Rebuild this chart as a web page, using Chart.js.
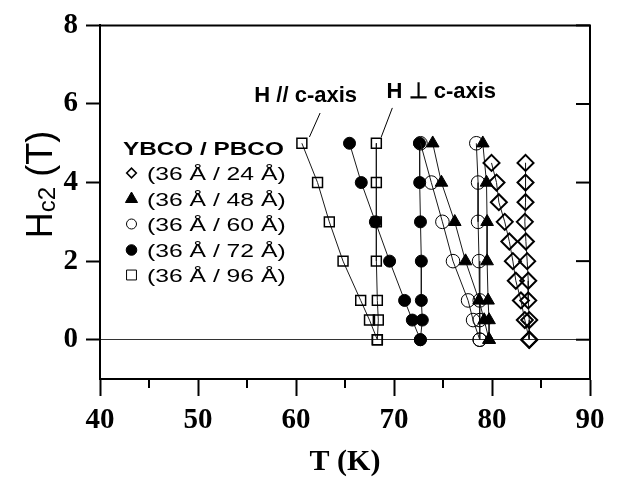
<!DOCTYPE html>
<html><head><meta charset="utf-8">
<script src="https://cdn.jsdelivr.net/npm/chart.js@4"></script>
<style>html,body{margin:0;padding:0;background:#fff}#wrap{width:628px;height:483px;position:relative}</style>
</head><body><div id="wrap"><canvas id="c"></canvas></div>
<script>
// ---- data ----
const fieldLevels   = [5, 4, 3, 2, 1, 0.5, 0];           // H (T)
const diamondLevels = [4.5, 4, 3.5, 3, 2.5, 2, 1.5, 1, 0.5, 0];
const t24Par  = [79.95, 80.46, 80.7, 81.3, 81.77, 82.13, 82.43, 82.95, 83.35, 83.8];
const t24Perp = [83.42, 83.42, 83.42, 83.35, 83.46, 83.59, 83.7, 83.7, 83.8, 83.8];
const t48Par  = [73.95, 74.84, 76.2, 77.3, 78.68, 79.2, 79.7];
const t48Perp = [79.06, 79.44, 79.5, 79.5, 79.6, 79.7, 79.7];
const t60Par  = [72.7, 73.81, 74.94, 76.02, 77.56, 78.07, 78.75];
const t60Perp = [78.4, 78.58, 78.58, 78.68, 78.75, 78.75, 78.75];
const t72Par  = [65.46, 66.66, 68.1, 69.55, 71.08, 71.87, 72.69];
const t72Perp = [72.6, 72.62, 72.7, 72.79, 72.79, 72.89, 72.69];
const t96Par  = [60.6, 62.2, 63.4, 64.8, 66.6, 67.5, 68.3];
const t96Perp = [68.2, 68.2, 68.2, 68.2, 68.3, 68.4, 68.3];

const xTicks = [40, 50, 60, 70, 80, 90];
const xMinorTicks = [45, 55, 65, 75, 85];
const yTicks = [0, 2, 4, 6, 8];

const legendTitle = 'YBCO / PBCO';
const legendLabels = ['(36 Å / 24 Å)', '(36 Å / 48 Å)', '(36 Å / 60 Å)', '(36 Å / 72 Å)', '(36 Å / 96 Å)'];
const xTitle = 'T (K)';
const yTitleMain = 'H', yTitleSub = 'c2', yTitleTail = ' (T)';
const noteLabels = ['H // c-axis', 'H \u22A5 c-axis'];
const noteAnchors = [[55.75, 6.06], [69.24, 6.14]];
const notePointers = [[[62.46, 5.77], [61.37, 5.16]], [[69.83, 5.9], [68.7, 5.16]]];

// ---- styles ----
const markerStyles = [
  {ps: 'rectRot',  r: 8,   bw: 2,   fill: false, lr: 4.8},
  {ps: 'triangle', r: 7.3, bw: 1,   fill: true,  lr: 7},
  {ps: 'circle',   r: 6.8, bw: 1,   fill: false, lr: 5},
  {ps: 'circle',   r: 6,   bw: 1,   fill: true,  lr: 5.3},
  {ps: 'rect',     r: 7,   bw: 1.5, fill: false, lr: 7}
];
const seriesSets = [
  [t24Par, t24Perp, diamondLevels],
  [t48Par, t48Perp, fieldLevels],
  [t60Par, t60Perp, fieldLevels],
  [t72Par, t72Perp, fieldLevels],
  [t96Par, t96Perp, fieldLevels]
];

const datasets = [];
seriesSets.forEach((s, k) => {
  const st = markerStyles[k];
  [s[0], s[1]].forEach((xs, j) => {
    datasets.push({
      label: legendLabels[k] + (j ? ' perp' : ' par'),
      data: xs.map((t, i) => ({x: t, y: s[2][i]})),
      showLine: true,
      borderColor: '#1a1a1a',
      borderWidth: 1,
      pointStyle: st.ps,
      pointRadius: st.r,
      pointHoverRadius: st.r,
      pointBorderWidth: st.bw,
      pointBorderColor: '#000',
      pointBackgroundColor: st.fill ? '#000' : 'rgba(0,0,0,0)'
    });
  });
});

const SANS = "'Liberation Sans', Arial, sans-serif";
const SERIF = "'Liberation Serif', 'Times New Roman', serif";

const decor = {
  id: 'decor',
  beforeDatasetsDraw(chart) {
    const {ctx, chartArea: a, scales: {x}} = chart;
    ctx.save();
    ctx.strokeStyle = '#000';
    // minor x ticks
    ctx.lineWidth = 2;
    xMinorTicks.forEach(v => {
      const px = x.getPixelForValue(v);
      ctx.beginPath(); ctx.moveTo(px, a.bottom); ctx.lineTo(px, a.bottom + 9); ctx.stroke();
    });
    ctx.restore();
  },
  afterDraw(chart) {
    const {ctx, chartArea: a, scales: {x, y}} = chart;
    ctx.save();
    ctx.strokeStyle = '#000';
    // top and right frame
    ctx.lineWidth = 2;
    ctx.beginPath(); ctx.moveTo(a.left - 1, a.top); ctx.lineTo(a.right, a.top); ctx.lineTo(a.right, a.bottom + 1); ctx.stroke();
    yTicks.forEach(v => {
      const py = y.getPixelForValue(v);
      ctx.beginPath(); ctx.moveTo(a.right, py); ctx.lineTo(a.right - 14, py); ctx.stroke();
    });
    // annotation pointers and labels
    ctx.lineWidth = 1;
    ctx.fillStyle = '#000';
    ctx.font = 'bold 22px ' + SANS;
    ctx.textBaseline = 'alphabetic';
    ctx.textAlign = 'left';
    noteLabels.forEach((t, i) => {
      ctx.fillText(t, x.getPixelForValue(noteAnchors[i][0]), y.getPixelForValue(noteAnchors[i][1]));
      const p = notePointers[i];
      ctx.beginPath();
      ctx.moveTo(x.getPixelForValue(p[0][0]), y.getPixelForValue(p[0][1]));
      ctx.lineTo(x.getPixelForValue(p[1][0]), y.getPixelForValue(p[1][1]));
      ctx.stroke();
    });
    // legend
    ctx.save();
    ctx.translate(123, 155);
    ctx.scale(1.28, 1);
    ctx.font = 'bold 19px ' + SANS;
    ctx.fillText(legendTitle, 0, 0);
    ctx.restore();
    const rowsY = [173, 199, 224, 250, 275];
    legendLabels.forEach((lab, i) => {
      const st = markerStyles[i];
      ctx.fillStyle = st.fill ? '#000' : 'rgba(0,0,0,0)';
      ctx.strokeStyle = '#000';
      ctx.lineWidth = st.ps === 'rectRot' ? 1.6 : 1;
      Chart.helpers.drawPoint(ctx, {pointStyle: st.ps, radius: st.lr, borderWidth: ctx.lineWidth, rotation: 0}, 131.5, rowsY[i]);
      ctx.save();
      ctx.fillStyle = '#000';
      ctx.translate(147, rowsY[i] + 6.7);
      ctx.scale(1.3, 1);
      ctx.font = '19px ' + SANS;
      ctx.fillText(lab, 0, 0);
      ctx.restore();
    });
    // x title
    ctx.fillStyle = '#000';
    ctx.font = 'bold 30px ' + SERIF;
    ctx.textAlign = 'center';
    ctx.fillText(xTitle, (a.left + a.right) / 2, 470);
    // y title with subscript
    ctx.save();
    ctx.translate(52, 184.5);
    ctx.rotate(-Math.PI / 2);
    ctx.textAlign = 'left';
    const fMain = '36px ' + SANS, fSub = '24px ' + SANS;
    ctx.font = fMain; const w1 = ctx.measureText(yTitleMain).width, w3 = ctx.measureText(yTitleTail).width;
    ctx.font = fSub; const w2 = ctx.measureText(yTitleSub).width;
    let sx = -(w1 + w2 + w3) / 2;
    ctx.font = fMain; ctx.fillText(yTitleMain, sx, 0); sx += w1;
    ctx.font = fSub; ctx.fillText(yTitleSub, sx, 3); sx += w2;
    ctx.font = fMain; ctx.fillText(yTitleTail, sx, 0);
    ctx.restore();
    ctx.restore();
  }
};

new Chart(document.getElementById('c'), {
  type: 'scatter',
  data: {datasets},
  options: {
    responsive: true,
    maintainAspectRatio: false,
    animation: false,
    devicePixelRatio: 1,
    layout: {padding: {top: 15, right: 38, left: 0, bottom: 0}},
    plugins: {legend: {display: false}, tooltip: {enabled: false}},
    scales: {
      x: {
        type: 'linear', min: 40, max: 90,
        afterBuildTicks: s => { s.ticks = xTicks.map(v => ({value: v})); },
        afterFit: s => { s.height = 104; },
        border: {display: true, color: '#000', width: 2},
        grid: {drawOnChartArea: false, drawTicks: true, tickLength: 17, tickWidth: 2, tickColor: '#000'},
        ticks: {color: '#000', padding: 7, font: {family: SERIF, size: 29, weight: 'bold'}, maxRotation: 0}
      },
      y: {
        type: 'linear', min: -1, max: 8,
        afterBuildTicks: s => { s.ticks = yTicks.map(v => ({value: v})); },
        afterFit: s => { s.width = 100; },
        border: {display: true, color: '#000', width: 2},
        grid: {
          drawOnChartArea: true, drawTicks: true, tickLength: 14, tickWidth: 2, tickColor: '#000',
          color: c => (c.tick && c.tick.value === 0) ? '#333' : 'rgba(0,0,0,0)', lineWidth: 1
        },
        ticks: {color: '#000', padding: 8, font: {family: SERIF, size: 29, weight: 'bold'}}
      }
    }
  },
  plugins: [decor]
});
</script>
</body></html>
